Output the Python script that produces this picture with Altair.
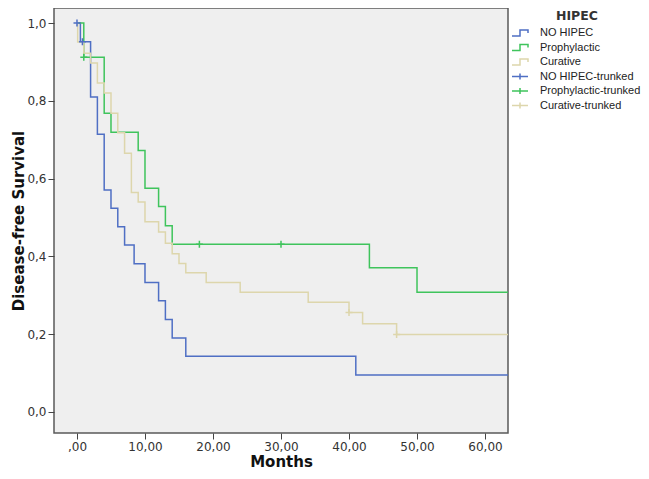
import altair as alt
import pandas as pd

series_names = ["NO HIPEC", "Prophylactic", "Curative"]
censor_names = ["NO HIPEC-trunked", "Prophylactic-trunked", "Curative-trunked"]
series_colors = ["#4f6fc4", "#3fc45c", "#ddd6ac"]

# Kaplan-Meier step curves (time in months, survival)
no_hipec_t = [0, 0.5, 2, 3, 4, 5, 6, 7, 8.4, 10, 12, 13, 14, 16, 41, 63.4]
no_hipec_s = [1.0, 0.952, 0.810, 0.714, 0.571, 0.524, 0.476, 0.429, 0.381, 0.333, 0.286, 0.238, 0.190, 0.143, 0.095, 0.095]

proph_t = [0, 1, 4, 5, 9, 10, 12, 13, 14, 43, 50, 63.4]
proph_s = [1.0, 0.912, 0.768, 0.719, 0.672, 0.575, 0.528, 0.479, 0.431, 0.371, 0.308, 0.308]

cur_t = [0, 0.1, 1, 2, 3, 4, 5, 6, 7, 8, 9, 10, 12, 13, 14, 15, 16, 19, 24, 34, 40, 42, 47, 63.4]
cur_s = [1.0, 0.951, 0.922, 0.897, 0.846, 0.820, 0.768, 0.718, 0.665, 0.564, 0.540, 0.489, 0.463, 0.434, 0.407, 0.382, 0.358, 0.333, 0.308, 0.282, 0.256, 0.227, 0.199, 0.199]

# censored observations
no_hipec_cens_t = [0, 0.8]
no_hipec_cens_s = [1.0, 0.952]
proph_cens_t = [1, 18, 30]
proph_cens_s = [0.912, 0.431, 0.431]
cur_cens_t = [40, 47]
cur_cens_s = [0.256, 0.199]

x_ticks = [0, 10, 20, 30, 40, 50, 60]
y_ticks = [0.0, 0.2, 0.4, 0.6, 0.8, 1.0]

curves = [(no_hipec_t, no_hipec_s), (proph_t, proph_s), (cur_t, cur_s)]
cens = [(no_hipec_cens_t, no_hipec_cens_s), (proph_cens_t, proph_cens_s), (cur_cens_t, cur_cens_s)]

line_rows = []
for name, (ts, ss) in zip(series_names, curves):
    for t, s in zip(ts, ss):
        line_rows.append({"series": name, "t": t, "s": s})
line_df = pd.DataFrame(line_rows)

cens_rows = []
for name, (ts, ss) in zip(censor_names, cens):
    for t, s in zip(ts, ss):
        cens_rows.append({"series": name, "t": t, "s": s})
cens_df = pd.DataFrame(cens_rows)

domain_all = series_names + censor_names
range_all = series_colors + series_colors

step_path = "M-1.6,0.6L0,0.6L0,-0.6L1.6,-0.6L1.6,0"
plus_path = "M-1.6,0L1.6,0M0,-0.6L0,0.6"
shape_expr = ("indexof(['NO HIPEC','Prophylactic','Curative'], datum.value) >= 0 ? '"
              + step_path + "' : '" + plus_path + "'")

x_enc = alt.X(
    "t:Q",
    scale=alt.Scale(domain=[-3.38, 63.38], nice=False, zero=False),
    axis=alt.Axis(
        title="Months", values=x_ticks,
        labelExpr="datum.value == 0 ? ',00' : replace(format(datum.value, '.2f'), '.', ',')",
        grid=False, domain=False, tickSize=6, tickColor="#444", labelPadding=2,
        labelFont="DejaVu Sans", labelFontSize=12, labelColor="#333",
        titleFont="DejaVu Sans", titleFontSize=15, titleFontWeight="bold", titleColor="#111",
        titlePadding=2.5,
    ),
)
y_enc = alt.Y(
    "s:Q",
    scale=alt.Scale(domain=[-0.054, 1.0386], nice=False, zero=False),
    axis=alt.Axis(
        title="Disease-free Survival", values=y_ticks,
        labelExpr="replace(format(datum.value, '.1f'), '.', ',')",
        grid=False, domain=False, tickSize=6, tickColor="#444", labelPadding=2,
        labelFont="DejaVu Sans", labelFontSize=12, labelColor="#333",
        titleFont="DejaVu Sans", titleFontSize=15, titleFontWeight="bold", titleColor="#111",
        titlePadding=0,
    ),
)

color_enc = alt.Color(
    "series:N",
    scale=alt.Scale(domain=domain_all, range=range_all),
    legend=alt.Legend(
        title="HIPEC", orient="none", legendX=460, legendY=2,
        padding=0, offset=0,
        symbolSize=100, labelOffset=14, rowPadding=2.5, titlePadding=4.5,
        symbolType=alt.ExprRef(expr=shape_expr),
        symbolFillColor="transparent", symbolStrokeWidth=1.5, symbolOpacity=1,
        labelFont="Liberation Sans", labelFontSize=11, labelColor="#222",
        titleFont="DejaVu Sans", titleFontSize=12.5, titleFontWeight="bold", titleColor="#333",
        titleAnchor="middle", titleAlign="center",
    ),
)

lines = alt.Chart(line_df).mark_line(interpolate="step-after", strokeWidth=1.5, clip=True).encode(
    x=x_enc, y=y_enc, color=color_enc,
)

points = alt.Chart(cens_df).mark_point(shape="M-1,0L1,0M0,-1L0,1", size=49, strokeWidth=1.5,
                                        filled=False, opacity=1, clip=True).encode(
    x=x_enc, y=y_enc, color=color_enc,
)

chart = alt.layer(lines, points).properties(
    width=454, height=425,
    autosize=alt.AutoSizeParams(type="none"),
    padding={"left": 46, "top": 0, "right": 133, "bottom": 38},
    background="white",
).configure_view(
    fill="#efefef", stroke="#5a5a5a", strokeWidth=1.5,
)

chart.save("out.html", embed_options={"renderer": "svg", "actions": False})
